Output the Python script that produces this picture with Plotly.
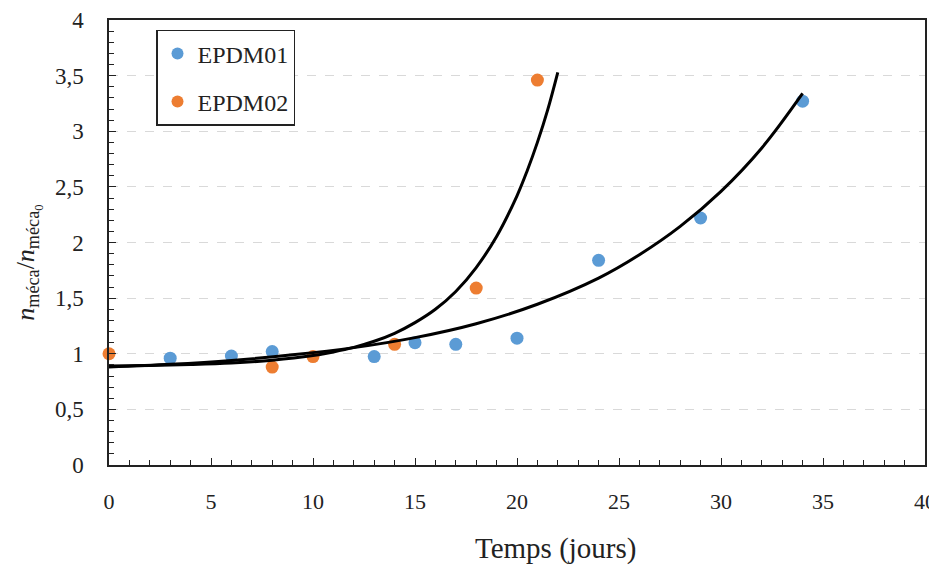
import plotly.graph_objects as go

epdm01_t = [3, 6, 8, 13, 15, 17, 20, 24, 29, 34]
epdm01_r = [0.96, 0.98, 1.02, 0.975, 1.10, 1.085, 1.14, 1.84, 2.22, 3.27]

epdm02_t = [0, 8, 10, 14, 18, 21]
epdm02_r = [1.00, 0.88, 0.975, 1.085, 1.59, 3.46]

# Trend curves, points
fit01_t = [0, 3, 6, 9, 12, 15, 18, 21, 24, 26, 28, 30, 32, 34]
fit01_r = [0.88, 0.905, 0.94, 0.99, 1.055, 1.145, 1.27, 1.445, 1.68, 1.89, 2.145, 2.46, 2.85, 3.34]

fit02_t = [0, 2, 4, 6, 8, 10, 11, 12, 13, 14, 15, 16, 17, 18, 19, 20, 20.5, 21, 21.5, 22]
fit02_r = [0.89, 0.894, 0.903, 0.917, 0.942, 0.984, 1.016, 1.057, 1.112, 1.184, 1.28,
           1.40, 1.56, 1.775, 2.054, 2.42, 2.645, 2.90, 3.19, 3.53]

x_ticks = [0, 5, 10, 15, 20, 25, 30, 35, 40]
y_ticks = [0, 0.5, 1, 1.5, 2, 2.5, 3, 3.5, 4]

BLUE = "#5B9BD5"
ORANGE = "#ED7D31"
FONT = "Liberation Serif"
TXT = "#222"

fig = go.Figure()
fig.add_trace(go.Scatter(x=epdm01_t, y=epdm01_r, mode="markers", name="EPDM01",
                         legendgroup="a",
                         marker=dict(color=BLUE, size=13), cliponaxis=False))
fig.add_trace(go.Scatter(x=epdm02_t, y=epdm02_r, mode="markers", name="EPDM02",
                         legendgroup="b",
                         marker=dict(color=ORANGE, size=13), cliponaxis=False))
fig.add_trace(go.Scatter(x=fit01_t, y=fit01_r, mode="lines", showlegend=False,
                         line=dict(color="black", width=3, shape="spline")))
fig.add_trace(go.Scatter(x=fit02_t, y=fit02_r, mode="lines", showlegend=False,
                         line=dict(color="black", width=3, shape="spline")))

fig.update_layout(
    width=929, height=558,
    margin=dict(l=101, r=12, t=12, b=101, autoexpand=False),
    paper_bgcolor="white", plot_bgcolor="white",
    separators=", ",
    font=dict(family=FONT, size=22, color=TXT),
    showlegend=True,
    legend=dict(x=0.0576, y=0.978, xanchor="left", yanchor="top",
                bordercolor=TXT, borderwidth=1.5, bgcolor="white",
                font=dict(family=FONT, size=24), tracegroupgap=14,
                itemsizing="constant"),
)
fig.update_xaxes(range=[0, 40], tickvals=x_ticks, ticks="inside", ticklen=7,
                 tickwidth=1.3, tickcolor=TXT, automargin=False,
                 minor=dict(dtick=1, ticks="inside", ticklen=5, tickcolor=TXT, tickwidth=1.2),
                 showline=True, linecolor=TXT, linewidth=1.5, mirror=True,
                 showgrid=False, zeroline=False, ticklabelstandoff=16,
                 tickfont=dict(family=FONT, size=22))
fig.update_yaxes(range=[0, 4], tickvals=y_ticks, ticks="inside", ticklen=7,
                 tickwidth=1.3, tickcolor=TXT, automargin=False,
                 minor=dict(dtick=0.1, ticks="inside", ticklen=5, tickcolor=TXT, tickwidth=1.2,
                            showgrid=False),
                 showline=True, linecolor=TXT, linewidth=1.5, mirror=True,
                 showgrid=True, gridcolor="#d9d9d9", griddash="dash", gridwidth=1,
                 zeroline=False, ticklabelstandoff=19,
                 tickfont=dict(family=FONT, size=23))

fig.add_annotation(text="Temps (jours)", xref="paper", yref="paper",
                   x=0.547, y=-0.187, xanchor="center", yanchor="middle",
                   showarrow=False, font=dict(family=FONT, size=29, color=TXT))
fig.add_annotation(text="<i>n</i><sub>méca</sub>/<i>n</i><sub>méca<sub>0</sub></sub>",
                   xref="paper", yref="paper", x=-0.099, y=0.455,
                   xanchor="center", yanchor="middle", textangle=-90,
                   showarrow=False, font=dict(family=FONT, size=26, color=TXT))

fig.write_html("out.html")
